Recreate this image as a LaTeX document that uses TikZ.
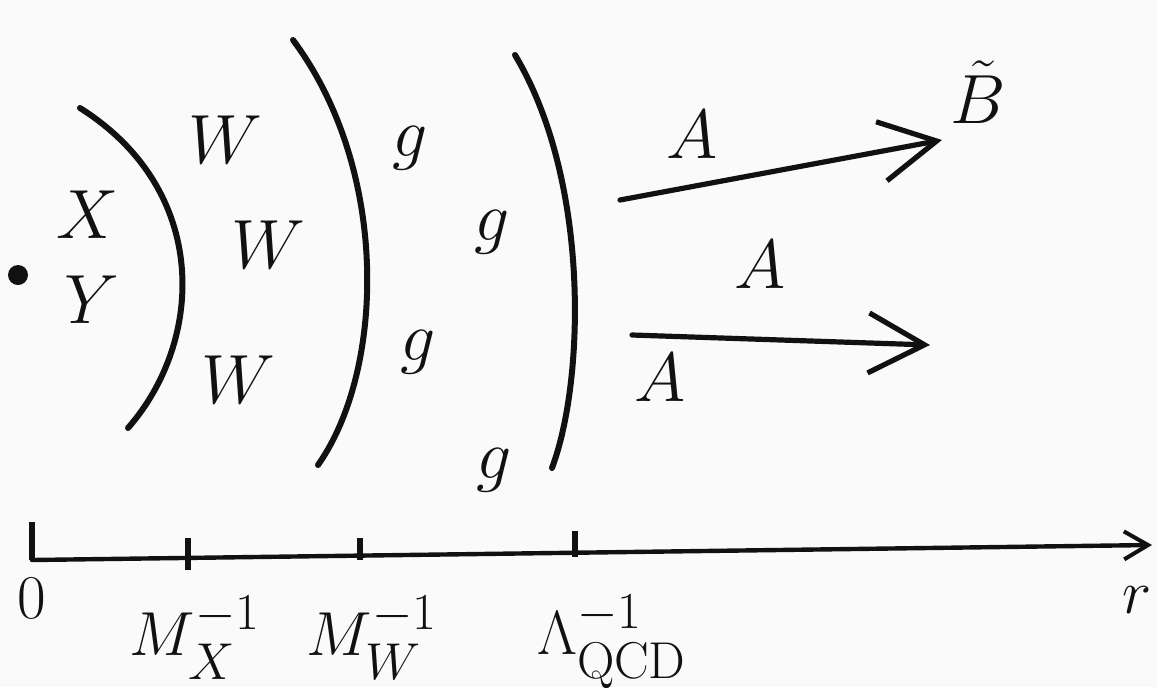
\documentclass[tikz,border=0pt]{standalone}
\usepackage{amsmath,amssymb}
\usepackage{tikz}
\usetikzlibrary{arrows.meta,positioning,calc}
\definecolor{ink}{HTML}{111111}
\definecolor{paper}{HTML}{FAFAFA}
\tikzset{
  wall/.style={line width=3pt,color=ink,line cap=round},
  fieldarr/.style={line width=2.6pt,color=ink,line cap=round,
    -{Straight Barb[length=28pt,width=30pt,line width=2.6pt]}},
  axisline/.style={line width=2.2pt,color=ink,line cap=round,
    -{Straight Barb[length=12pt,width=14pt,line width=2pt]}},
  tickmark/.style={line width=3pt,color=ink},
  partlbl/.style={text=ink,inner sep=1pt,font=\Huge,scale=1.4},
  scalelbl/.style={text=ink,inner sep=1pt,font=\Huge,scale=1.25},
}

\begin{document}
\begin{tikzpicture}[x=0.5pt,y=-0.5pt]
  \useasboundingbox[fill=paper] (0,0) rectangle (1157,687);

  % source at the origin
  \fill[ink] (18,275) circle (5pt);
  \node[partlbl] (xlbl) at (88,215) {$X$};
  \node[partlbl] (ylbl) at (92,300) {$Y$};

  % shells
  \draw[wall] (80,108) .. controls (210,190) and (205,340) .. (128,428);
  \draw[wall] (293,40) .. controls (390,170) and (385,370) .. (318,465);
  \draw[wall] (515,55) .. controls (590,180) and (585,380) .. (552,468);

  \node[partlbl] (wtop) at (225,140) {$W$};
  \node[partlbl] (wmid) at (268,245) {$W$};
  \node[partlbl] (wbot) at (238,380) {$W$};

  \node[partlbl] (gone)   at (410,148) {$g$};
  \node[partlbl] (gtwo)   at (492,232) {$g$};
  \node[partlbl] (gthree) at (418,352) {$g$};
  \node[partlbl] (gfour)  at (494,470) {$g$};

  % outside: photon field
  \node[partlbl] (bfield) at (978,92) {$\tilde{B}$};
  \node[partlbl] (aone)   at (692,135) {$A$};
  \node[partlbl] (atwo)   at (760,265) {$A$};
  \node[partlbl] (athree) at (660,378) {$A$};

  \coordinate (upstart) at (620,200);
  \coordinate (upend)   at (942,140);
  \coordinate (lostart) at (632,335);
  \coordinate (loend)   at (930,345);
  \draw[fieldarr] (upstart) -- (upend);
  \draw[fieldarr] (lostart) -- (loend);

  % radial axis
  \coordinate (origin) at (32,560);
  \coordinate (rend)   at (1152,545);
  \draw[axisline] (origin) -- (rend);
  \draw[tickmark] (32,522) -- (origin);
  \coordinate (tx) at (188,558);
  \coordinate (tw) at (360,556);
  \coordinate (tq) at (575,553);
  \draw[tickmark] ($(tx)+(0,-20)$) -- ($(tx)+(0,12)$);
  \draw[tickmark] ($(tw)+(0,-18)$) -- ($(tw)+(0,4)$);
  \draw[tickmark] ($(tq)+(0,-22)$) -- ($(tq)+(0,4)$);

  \node[scalelbl] (zero) at (32,598) {$0$};
  \node[scalelbl] (mx) at (195,638) {$M_X^{-1}$};
  \node[scalelbl] (mw) at (372,638) {$M_W^{-1}$};
  \node[scalelbl] (lq) at (612,642) {$\Lambda_{\mathrm{QCD}}^{-1}$};
  \node[scalelbl] (rlbl) at (1137,600) {$r$};
\end{tikzpicture}
\end{document}
